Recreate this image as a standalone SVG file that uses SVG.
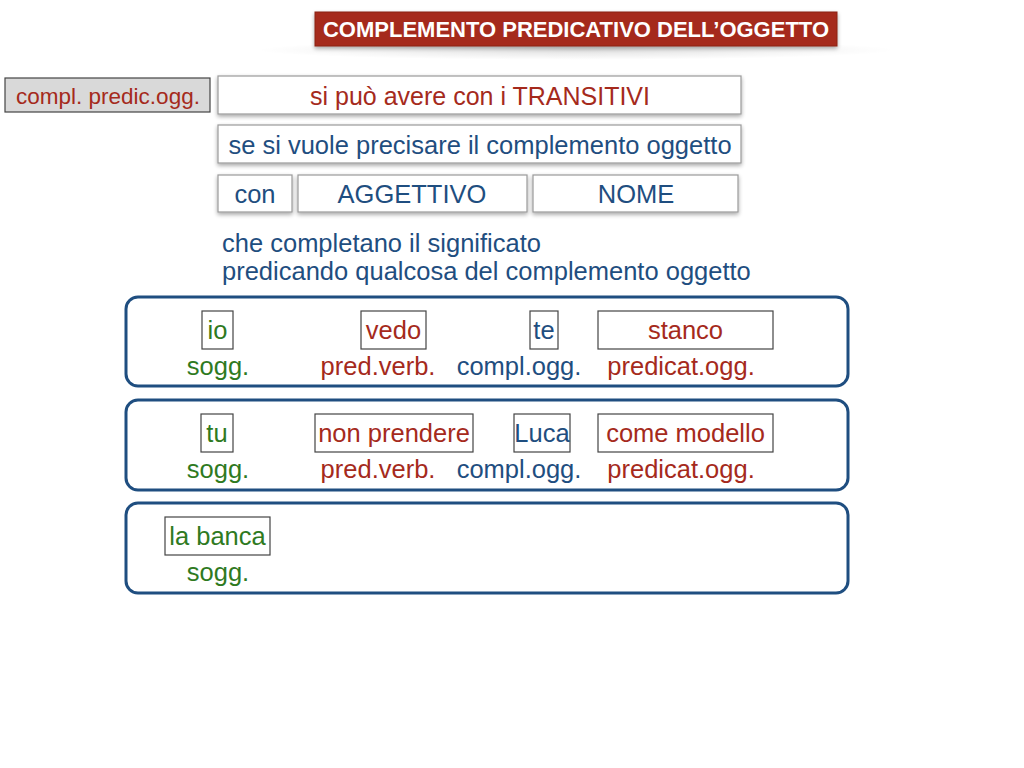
<svg xmlns="http://www.w3.org/2000/svg" width="1024" height="768" viewBox="0 0 1024 768">
<defs>
<filter id="sh" x="-10%" y="-30%" width="120%" height="180%">
<feGaussianBlur in="SourceAlpha" stdDeviation="2"/>
<feOffset dx="0" dy="2" result="b"/>
<feComponentTransfer><feFuncA type="linear" slope="0.35"/></feComponentTransfer>
<feMerge><feMergeNode/><feMergeNode in="SourceGraphic"/></feMerge>
</filter>
<radialGradient id="tsh" cx="0.5" cy="0.5" r="0.5">
<stop offset="0" stop-color="#000" stop-opacity="0.12"/>
<stop offset="1" stop-color="#000" stop-opacity="0"/>
</radialGradient>
</defs>
<style>
text{font-family:"Liberation Sans",Arial,Helvetica,sans-serif;}
.box{fill:#fff;stroke:#9a9a9a;stroke-width:1.2;}
.wb{fill:#fff;stroke:#444;stroke-width:1.2;}
.grp{fill:#fff;stroke:#1f4e80;stroke-width:3;}
.r{fill:#a52a1c;}
.b{fill:#1f4e80;}
.g{fill:#2f7a1f;}
.t22{font-size:25.5px;}
.c{text-anchor:middle;}
</style>
<rect width="1024" height="768" fill="#fff"/>
<g id="title">
<ellipse cx="576" cy="50" rx="320" ry="10" fill="url(#tsh)"/>
<rect x="315" y="12" width="522" height="34" fill="#a52a1a" stroke="#8a2214" stroke-width="1" filter="url(#sh)"/>
<text x="576" y="37" class="c" font-size="22" font-weight="bold" fill="#fff">COMPLEMENTO PREDICATIVO DELL’OGGETTO</text>
</g>
<g id="label">
<rect x="5" y="78" width="205" height="34" fill="#d9d9d9" stroke="#444" stroke-width="1.2"/>
<text x="108" y="104" class="c r" font-size="22.5">compl. predic.ogg.</text>
</g>
<g id="transitivi">
<rect x="218" y="76" width="523" height="38" class="box" filter="url(#sh)"/>
<text x="480" y="105" class="c r" font-size="25">si può avere con i TRANSITIVI</text>
</g>
<g id="precisare">
<rect x="218" y="125" width="523" height="38" class="box" filter="url(#sh)"/>
<text x="480" y="154" class="c b t22">se si vuole precisare il complemento oggetto</text>
</g>
<g id="con">
<rect x="218" y="175" width="74" height="37" class="box" filter="url(#sh)"/>
<text x="255" y="203" class="c b t22">con</text>
</g>
<g id="aggettivo">
<rect x="298" y="175" width="229" height="37" class="box" filter="url(#sh)"/>
<text x="412" y="203" class="c b t22">AGGETTIVO</text>
</g>
<g id="nome">
<rect x="533" y="175" width="205" height="37" class="box" filter="url(#sh)"/>
<text x="636" y="203" class="c b t22">NOME</text>
</g>
<g id="spiegazione">
<text x="222" y="252" class="b t22">che completano il significato</text>
<text x="222" y="280" class="b t22">predicando qualcosa del complemento oggetto</text>
</g>
<g id="esempio1">
<rect x="126" y="297" width="722" height="89" rx="12" class="grp"/>
<rect x="202" y="311" width="31" height="38" class="wb"/>
<text x="217.5" y="339" class="c g t22">io</text>
<rect x="361" y="311" width="65" height="38" class="wb"/>
<text x="393.5" y="339" class="c r t22">vedo</text>
<rect x="530" y="311" width="28" height="38" class="wb"/>
<text x="544" y="339" class="c b t22">te</text>
<rect x="598" y="311" width="175" height="38" class="wb"/>
<text x="685.5" y="339" class="c r t22">stanco</text>
<text x="218" y="375" class="c g t22">sogg.</text>
<text x="378" y="375" class="c r t22">pred.verb.</text>
<text x="519" y="375" class="c b t22">compl.ogg.</text>
<text x="681" y="375" class="c r t22">predicat.ogg.</text>
</g>
<g id="esempio2">
<rect x="126" y="400" width="722" height="90" rx="12" class="grp"/>
<rect x="201" y="414" width="32" height="38" class="wb"/>
<text x="217" y="442" class="c g t22">tu</text>
<rect x="315" y="414" width="158" height="38" class="wb"/>
<text x="394" y="442" class="c r t22">non prendere</text>
<rect x="514" y="414" width="56" height="38" class="wb"/>
<text x="542" y="442" class="c b t22">Luca</text>
<rect x="598" y="414" width="175" height="38" class="wb"/>
<text x="685.5" y="442" class="c r t22">come modello</text>
<text x="218" y="478" class="c g t22">sogg.</text>
<text x="378" y="478" class="c r t22">pred.verb.</text>
<text x="519" y="478" class="c b t22">compl.ogg.</text>
<text x="681" y="478" class="c r t22">predicat.ogg.</text>
</g>
<g id="esempio3">
<rect x="126" y="503" width="722" height="90" rx="12" class="grp"/>
<rect x="165" y="517" width="105" height="38" class="wb"/>
<text x="217.5" y="545" class="c g t22">la banca</text>
<text x="218" y="581" class="c g t22">sogg.</text>
</g>
<g id="connectors"/>
</svg>
